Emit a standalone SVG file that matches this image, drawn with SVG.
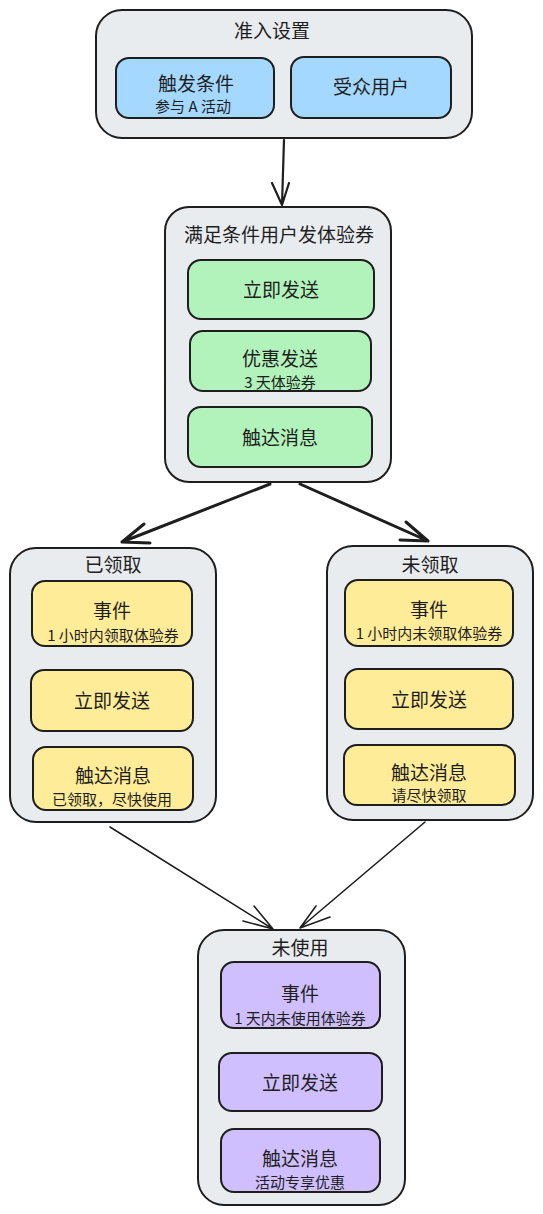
<svg xmlns="http://www.w3.org/2000/svg" width="543" height="1214" viewBox="0 0 543 1214">
<style>
text{font-family:"Noto Sans CJK SC","Noto Sans",sans-serif;fill:#1e1e1e;text-anchor:middle;dominant-baseline:central}
.grp{fill:#e9ecef;stroke:#1e1e1e;stroke-width:2}
.blue{fill:#a5d8ff;stroke:#1e1e1e;stroke-width:2}
.green{fill:#b2f2bb;stroke:#1e1e1e;stroke-width:2}
.yellow{fill:#ffec99;stroke:#1e1e1e;stroke-width:2}
.purple{fill:#d0bfff;stroke:#1e1e1e;stroke-width:2}
.t{font-size:19px}
.m{font-size:19px}
.s{font-size:15px}
.ar{fill:none;stroke:#1e1e1e;stroke-linecap:round;stroke-linejoin:round}
</style>
<rect width="543" height="1214" fill="#ffffff"/>
<g id="connectors">
<path class="ar" stroke-width="2.2" d="M284 140 L282 205 M272 183 L282 205 L289 183"/>
<path class="ar" stroke-width="3" d="M270 484 L122 542 M144 524 L122 542 L150 543"/>
<path class="ar" stroke-width="3" d="M300 484 L428 541 M406 522 L428 541 L400 540"/>
<path class="ar" stroke-width="1.6" d="M110 827 L273 929 M254 906 L273 929 L243 921"/>
<path class="ar" stroke-width="1.6" d="M425 822 L300 928 M316 906 L300 928 L330 917"/>
</g>
<g id="g1">
<rect class="grp" x="96" y="10" width="376" height="128" rx="26"/>
<text class="t" x="272" y="29">准入设置</text>
</g>
<g id="n1a">
<rect class="blue" x="116" y="58" width="158" height="60" rx="13"/>
<text class="m" x="196" y="82">触发条件</text>
<text class="s" x="193" y="105">参与 A 活动</text>
</g>
<g id="n1b">
<rect class="blue" x="291" y="57" width="160" height="61" rx="13"/>
<text class="m" x="371" y="85">受众用户</text>
</g>
<g id="g2">
<rect class="grp" x="165" y="207" width="226" height="275" rx="24"/>
<text class="t" x="279" y="233">满足条件用户发体验券</text>
</g>
<g id="n2a">
<rect class="green" x="188" y="260" width="186" height="59" rx="13"/>
<text class="m" x="281" y="288">立即发送</text>
</g>
<g id="n2b">
<rect class="green" x="190" y="331" width="181" height="60" rx="13"/>
<text class="m" x="280" y="357">优惠发送</text>
<text class="s" x="280" y="381">3 天体验券</text>
</g>
<g id="n2c">
<rect class="green" x="188" y="407" width="184" height="60" rx="13"/>
<text class="m" x="280" y="436">触达消息</text>
</g>
<g id="g3">
<rect class="grp" x="10" y="548" width="206" height="274" rx="26"/>
<text class="t" x="113" y="563">已领取</text>
</g>
<g id="n3a">
<rect class="yellow" x="32" y="581" width="160" height="65" rx="13"/>
<text class="m" x="112" y="609">事件</text>
<text class="s" x="113" y="634">1 小时内领取体验券</text>
</g>
<g id="n3b">
<rect class="yellow" x="31" y="670" width="162" height="61" rx="13"/>
<text class="m" x="112" y="699">立即发送</text>
</g>
<g id="n3c">
<rect class="yellow" x="33" y="747" width="160" height="63" rx="13"/>
<text class="m" x="113" y="774">触达消息</text>
<text class="s" x="112" y="798">已领取，尽快使用</text>
</g>
<g id="g4">
<rect class="grp" x="327" y="546" width="206" height="274" rx="26"/>
<text class="t" x="430" y="563">未领取</text>
</g>
<g id="n4a">
<rect class="yellow" x="345" y="580" width="168" height="66" rx="13"/>
<text class="m" x="429" y="608">事件</text>
<text class="s" x="429" y="632">1 小时内未领取体验券</text>
</g>
<g id="n4b">
<rect class="yellow" x="345" y="669" width="168" height="60" rx="13"/>
<text class="m" x="429" y="698">立即发送</text>
</g>
<g id="n4c">
<rect class="yellow" x="344" y="745" width="171" height="60" rx="13"/>
<text class="m" x="429" y="771">触达消息</text>
<text class="s" x="429" y="794">请尽快领取</text>
</g>
<g id="g5">
<rect class="grp" x="198" y="930" width="207" height="275" rx="26"/>
<text class="t" x="300" y="946">未使用</text>
</g>
<g id="n5a">
<rect class="purple" x="221" y="962" width="159" height="66" rx="13"/>
<text class="m" x="300" y="992">事件</text>
<text class="s" x="300" y="1017">1 天内未使用体验券</text>
</g>
<g id="n5b">
<rect class="purple" x="219" y="1053" width="163" height="58" rx="13"/>
<text class="m" x="300" y="1081">立即发送</text>
</g>
<g id="n5c">
<rect class="purple" x="221" y="1129" width="159" height="63" rx="13"/>
<text class="m" x="300" y="1157">触达消息</text>
<text class="s" x="300" y="1181">活动专享优惠</text>
</g>
</svg>
